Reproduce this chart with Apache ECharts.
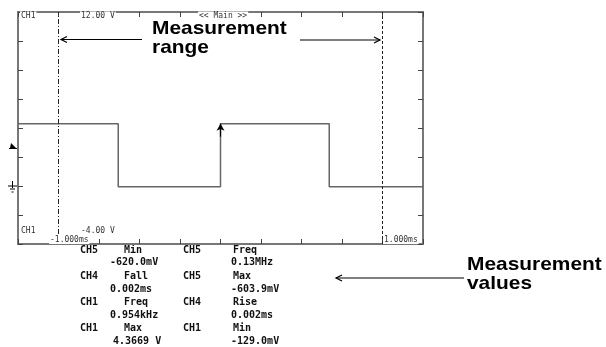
<!DOCTYPE html>
<html>
<head>
<meta charset="utf-8">
<script src="https://cdn.jsdelivr.net/npm/echarts@6/dist/echarts.min.js"></script>
<style>html,body{margin:0;padding:0;background:#fff;}#c{width:606px;height:347px;}</style>
</head>
<body>
<div id="c"></div>
<script>
// ---- data ----
const waveTime = [-1, -0.505, -0.505, 0, 0, 0.537, 0.537, 1];      // ms
const waveVolt = [4.3, 4.3, -0.05, -0.05, 4.3, 4.3, -0.05, -0.05];  // V
const rangeMarks = [-0.8, 0.8];   // measurement range cursors (ms)
const xMin = -1, xMax = 1, xStep = 0.2;
const yMin = -4, yMax = 12, yStep = 2;
const topLabels = ['CH1', '12.00 V', '<< Main >>'];
const bottomLabels = ['CH1', '-4.00 V', '-1.000ms', '1.000ms'];
const measCh1 = ['CH5', 'CH4', 'CH1', 'CH1'];
const measName1 = ['Min', 'Fall', 'Freq', 'Max'];
const measVal1 = ['-620.0mV', '0.002ms', '0.954kHz', '4.3669 V'];
const measCh2 = ['CH5', 'CH5', 'CH4', 'CH1'];
const measName2 = ['Freq', 'Max', 'Rise', 'Min'];
const measVal2 = ['0.13MHz', '-603.9mV', '0.002ms', '-129.0mV'];
const annRange = ['Measurement', 'range'];
const annValues = ['Measurement', 'values'];

const chart = echarts.init(document.getElementById('c'), null, {renderer: 'canvas'});

const axisCommon = {
  type: 'value', min: xMin, max: xMax, interval: xStep,
  axisLine: {show: true, onZero: false, lineStyle: {color: '#777', width: 2}},
  axisTick: {show: true, inside: true, length: 5, lineStyle: {color: '#444', width: 1}},
  axisLabel: {show: false}, splitLine: {show: false}
};
const yCommon = {
  type: 'value', min: yMin, max: yMax, interval: yStep,
  axisLine: {show: true, onZero: false, lineStyle: {color: '#777', width: 2}},
  axisTick: {show: true, inside: true, length: 5, lineStyle: {color: '#444', width: 1}},
  axisLabel: {show: false}, splitLine: {show: false}
};

const mono = '"DejaVu Sans Mono", monospace';
const g = [];
function tiny(text, x, y, align) {
  g.push({type: 'text', x: x, y: y, z: 100, style: {text: text, font: '8px ' + mono, fill: '#333',
    textAlign: align || 'left', textVerticalAlign: 'middle', backgroundColor: '#fff', padding: [0, 1]}});
}
tiny(topLabels[0], 20, 15.5);
tiny(topLabels[1], 80, 15.5);
tiny(topLabels[2], 198, 15.5);
tiny(bottomLabels[0], 20, 231);
tiny(bottomLabels[1], 80, 231);
tiny(bottomLabels[2], 49, 240);
tiny(bottomLabels[3], 383, 240);

// Measurement table
function meas(text, x, y) {
  g.push({type: 'text', x: x, y: y, style: {text: text, font: 'bold 10px ' + mono, fill: '#111',
    textAlign: 'left', textVerticalAlign: 'middle'}});
}
for (let i = 0; i < 4; i++) {
  const y1 = 250 + 26.3 * i, y2 = y1 + 12.7;
  meas(measCh1[i], 80, y1);
  meas(measName1[i], 124, y1);
  meas(measVal1[i], i === 3 ? 113 : 110, y2);
  meas(measCh2[i], 183, y1);
  meas(measName2[i], 233, y1);
  meas(measVal2[i], 231, y2);
}

// Annotation text
function ann(lines, x, y) {
  g.push({type: 'text', x: x, y: y, scaleX: 1.1, style: {text: lines.join('\n'), font: 'bold 19px "Liberation Sans", Arial, sans-serif',
    fill: '#000', lineHeight: 19, textAlign: 'left', textVerticalAlign: 'top'}});
}
ann(annRange, 152, 19);
ann(annValues, 467, 255);

// Arrows (annotation)
function arrow(x1, y, x2) {
  const d = x2 > x1 ? -1 : 1;
  g.push({type: 'line', shape: {x1: x1, y1: y, x2: x2, y2: y}, style: {stroke: '#000', lineWidth: 1.2}});
  g.push({type: 'polyline', shape: {points: [[x2 + d * 6, y - 3], [x2, y], [x2 + d * 6, y + 3]]},
    style: {stroke: '#000', lineWidth: 1.2, fill: null}});
}
arrow(142, 39.5, 61);
arrow(300, 40, 380);
arrow(464, 278, 336);

// Trigger marker and ground symbol on the left
g.push({type: 'polygon', shape: {points: [[11, 143], [16, 148], [10, 148]]}, style: {fill: '#000'}});
g.push({type: 'line', shape: {x1: 9, y1: 148.5, x2: 17, y2: 148.5}, style: {stroke: '#000', lineWidth: 1}});
g.push({type: 'line', shape: {x1: 12.5, y1: 181, x2: 12.5, y2: 188}, style: {stroke: '#000', lineWidth: 1}});
g.push({type: 'line', shape: {x1: 8, y1: 186, x2: 17, y2: 186}, style: {stroke: '#000', lineWidth: 1}});
g.push({type: 'line', shape: {x1: 10, y1: 189, x2: 15, y2: 189}, style: {stroke: '#000', lineWidth: 1}});
g.push({type: 'line', shape: {x1: 11.5, y1: 192, x2: 13.5, y2: 192}, style: {stroke: '#000', lineWidth: 1}});

chart.setOption({
  animation: false,
  backgroundColor: '#fff',
  grid: {left: 18, top: 12, width: 405, height: 232, show: false},
  xAxis: [Object.assign({position: 'bottom'}, axisCommon), Object.assign({position: 'top'}, axisCommon)],
  yAxis: [Object.assign({position: 'left'}, yCommon), Object.assign({position: 'right'}, yCommon)],
  series: [{
    type: 'line', xAxisIndex: 0, yAxisIndex: 0,
    data: waveTime.map((t, i) => [t, waveVolt[i]]),
    symbol: 'none', lineStyle: {color: '#666', width: 1.5},
    markLine: {
      silent: true, symbol: ['none', 'none'], label: {show: false},
      data: [
        {xAxis: rangeMarks[0], lineStyle: {color: '#222', width: 1, type: [5, 2, 1, 2]}},
        {xAxis: rangeMarks[1], lineStyle: {color: '#222', width: 1, type: [3, 2]}},
        [{coord: [0, 3.4], symbol: 'none', lineStyle: {color: '#000', width: 1.2, type: 'solid'}},
         {coord: [0, 4.3], symbol: 'arrow', symbolSize: [6, 7], lineStyle: {color: '#000', width: 1.2, type: 'solid'}}]
      ]
    }
  }],
  graphic: g
});
</script>
</body>
</html>
